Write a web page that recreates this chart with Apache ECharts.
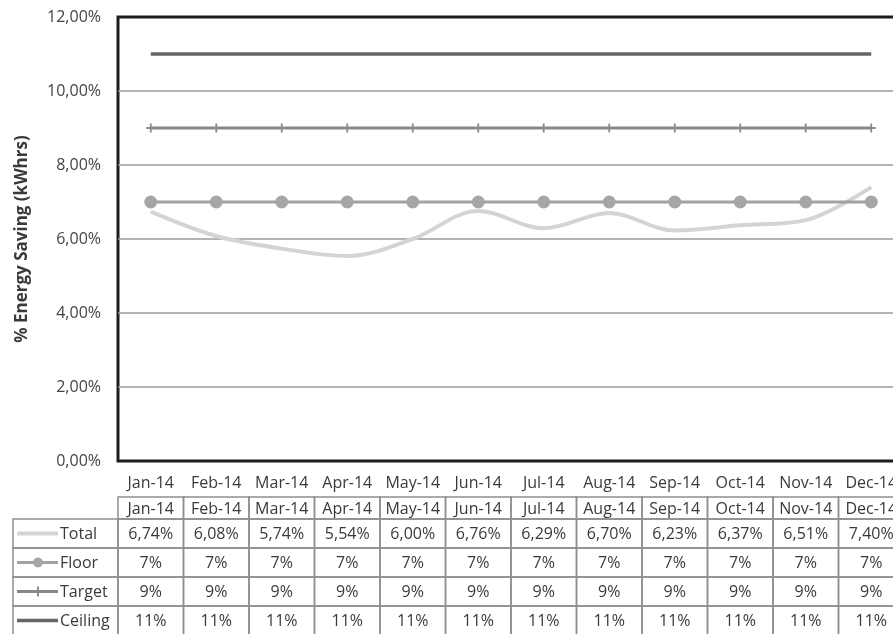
<!doctype html>
<html>
<head>
<meta charset="utf-8">
<title>% Energy Saving (kWhrs)</title>
<script src="https://cdn.jsdelivr.net/npm/echarts@6/dist/echarts.min.js"></script>
</head>
<body style="margin:0;background:#fff;">
<div id="container" style="width:893px;height:634px;"></div>
<script type="text/javascript">
    // months along the x axis
    var months = ['Jan-14', 'Feb-14', 'Mar-14', 'Apr-14', 'May-14', 'Jun-14',
                  'Jul-14', 'Aug-14', 'Sep-14', 'Oct-14', 'Nov-14', 'Dec-14'];
    // series values, in %
    var total   = [6.74, 6.08, 5.74, 5.54, 6.00, 6.76, 6.29, 6.70, 6.23, 6.37, 6.51, 7.40];
    var floor   = [7, 7, 7, 7, 7, 7, 7, 7, 7, 7, 7, 7];
    var target  = [9, 9, 9, 9, 9, 9, 9, 9, 9, 9, 9, 9];
    var ceiling = [11, 11, 11, 11, 11, 11, 11, 11, 11, 11, 11, 11];
    // y axis tick values, in %
    var yTicks = [0, 2, 4, 6, 8, 10, 12];

    var FONT = 'Open Sans';
    var plusPath = 'path://M4,0h2v4h4v2h-4v4h-2v-4h-4v-2h4z';

    var rows = [
        { name: 'Total',   data: total,   color: '#d4d4d4', width: 4, fmt: function (v) { return v.toFixed(2).replace('.', ',') + '%'; } },
        { name: 'Floor',   data: floor,   color: '#a2a2a2', width: 3, fmt: function (v) { return v + '%'; } },
        { name: 'Target',  data: target,  color: '#878787', width: 3, fmt: function (v) { return v + '%'; } },
        { name: 'Ceiling', data: ceiling, color: '#666666', width: 3.5, fmt: function (v) { return v + '%'; } }
    ];

    var option = {
        animation: false,
        textStyle: { fontFamily: FONT },
        grid: {
            left: 118, top: 17, width: 786, bottom: 173,
            outerBoundsMode: 'none', containLabel: false,
            show: true, borderColor: '#1c1c1c', borderWidth: 3
        },
        xAxis: {
            type: 'category',
            data: months,
            boundaryGap: true,
            axisLine: { show: false },
            axisTick: { show: false },
            axisLabel: { interval: 0, fontSize: 16, color: '#3a3a3a', margin: 14, fontFamily: FONT }
        },
        yAxis: {
            type: 'value',
            min: yTicks[0],
            max: yTicks[yTicks.length - 1],
            interval: yTicks[1] - yTicks[0],
            name: '% Energy Saving (kWhrs)',
            nameLocation: 'middle',
            nameGap: 87,
            nameTextStyle: { fontSize: 17, fontWeight: 'bold', color: '#3a3a3a', fontFamily: FONT },
            axisLine: { show: false },
            axisTick: { show: false },
            axisLabel: {
                fontSize: 16, color: '#444', margin: 17, fontFamily: FONT,
                formatter: function (v) { return v.toFixed(2).replace('.', ',') + '%'; }
            },
            splitLine: { showMinLine: false, showMaxLine: false, lineStyle: { color: '#9a9a9a', width: 1.5 } }
        },
        series: [
            {
                name: 'Total', type: 'line', data: total, smooth: 0.35,
                showSymbol: false, symbol: 'none',
                lineStyle: { color: rows[0].color, width: 4 }, z: 2
            },
            {
                name: 'Floor', type: 'line', data: floor,
                symbol: 'circle', symbolSize: 13,
                itemStyle: { color: '#a6a6a6' },
                lineStyle: { color: rows[1].color, width: 3 }, z: 3
            },
            {
                name: 'Target', type: 'line', data: target,
                symbol: plusPath, symbolSize: 9,
                itemStyle: { color: '#8a8a8a' },
                lineStyle: { color: rows[2].color, width: 3 }, z: 3
            },
            {
                name: 'Ceiling', type: 'line', data: ceiling,
                symbol: 'none',
                lineStyle: { color: rows[3].color, width: 3.5 }, z: 3
            }
        ]
    };

    var myChart = echarts.init(document.getElementById('container'));
    myChart.setOption(option);

    // data table under the chart, laid out from the category axis
    function buildTable() {
        var c0 = myChart.convertToPixel({ xAxisIndex: 0 }, 0);
        var c1 = myChart.convertToPixel({ xAxisIndex: 0 }, 1);
        var band = c1 - c0;
        var tableLeft = 13;
        var headTop = 497, headH = 22, rowH = 29;
        var border = { stroke: '#8e8e8e', lineWidth: 1.5, fill: 'rgba(0,0,0,0)' };
        var txt = { fontFamily: FONT, fontSize: 16, fill: '#3a3a3a', verticalAlign: 'middle' };
        var g = [];

        function cell(x, y, w, h) {
            g.push({ type: 'rect', silent: true, shape: { x: x, y: y, width: w, height: h }, style: border });
        }
        function label(x, y, text, align) {
            g.push({ type: 'text', silent: true, x: x, y: y,
                style: Object.assign({ text: text, align: align }, txt) });
        }

        months.forEach(function (m, i) {
            var cx = myChart.convertToPixel({ xAxisIndex: 0 }, i);
            cell(cx - band / 2, headTop, band, headH);
            label(cx, headTop + headH / 2 + 1, m, 'center');
        });

        rows.forEach(function (r, k) {
            var y = headTop + headH + k * rowH;
            var cy = y + rowH / 2;
            cell(tableLeft, y, c0 - band / 2 - tableLeft, rowH);
            // legend swatch
            g.push({ type: 'line', silent: true, shape: { x1: 17, y1: cy, x2: 58, y2: cy },
                style: { stroke: r.color, lineWidth: r.width } });
            if (r.name === 'Floor') {
                g.push({ type: 'circle', silent: true, shape: { cx: 38, cy: cy, r: 5 }, style: { fill: '#a6a6a6' } });
            }
            if (r.name === 'Target') {
                g.push({ type: 'rect', silent: true, shape: { x: 37, y: cy - 5, width: 2, height: 10 }, style: { fill: '#8a8a8a' } });
            }
            label(60, cy + 1, r.name, 'left');
            r.data.forEach(function (v, i) {
                var cx = myChart.convertToPixel({ xAxisIndex: 0 }, i);
                cell(cx - band / 2, y, band, rowH);
                label(cx, cy + 1, r.fmt(v), 'center');
            });
        });
        myChart.setOption({ graphic: { elements: g } });
    }
    buildTable();
</script>
</body>
</html>
